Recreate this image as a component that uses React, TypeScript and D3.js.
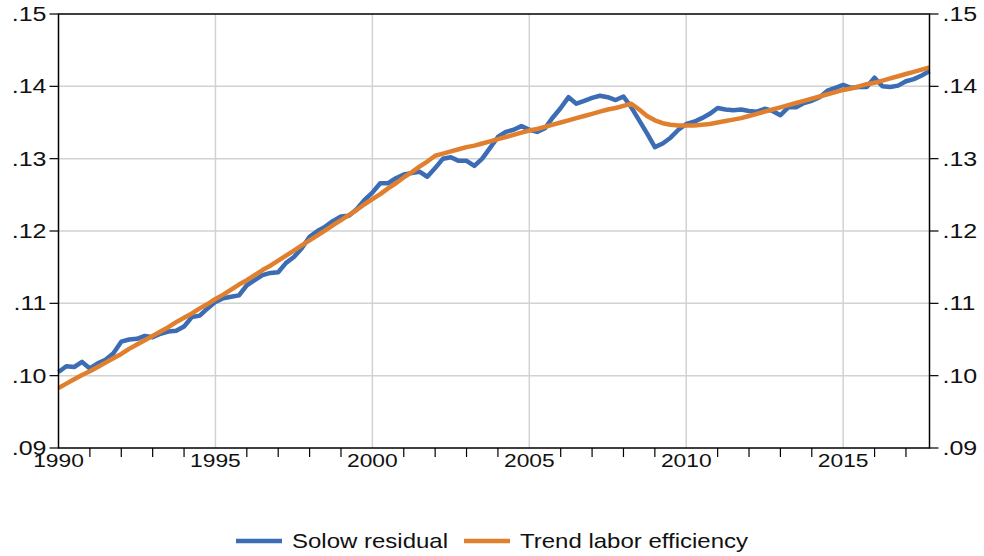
import * as d3 from "d3";
import React, { useRef, useEffect } from "react";

// quarterly data, 1990Q1 - 2017Q4
const startYear = 1990;

const solowResidual = [
  0.1005, 0.1013, 0.1012, 0.1019,
  0.1010, 0.1017, 0.1022, 0.1031,
  0.1047, 0.1050, 0.1051, 0.1055,
  0.1053, 0.1058, 0.1061, 0.1062,
  0.1068, 0.1081, 0.1083, 0.1093,
  0.1102, 0.1107, 0.1109, 0.1111,
  0.1125, 0.1132, 0.1139, 0.1142,
  0.1143, 0.1156, 0.1164, 0.1176,
  0.1192, 0.1200, 0.1206, 0.1214,
  0.1220, 0.1221, 0.1230, 0.1243,
  0.1253, 0.1266, 0.1266, 0.1273,
  0.1278, 0.1280, 0.1282, 0.1275,
  0.1287, 0.1300, 0.1302, 0.1297,
  0.1297, 0.1290, 0.1300, 0.1315,
  0.1330, 0.1337, 0.1340, 0.1345,
  0.1340, 0.1337, 0.1342, 0.1357,
  0.1370, 0.1385, 0.1376, 0.1380,
  0.1384, 0.1387, 0.1385, 0.1381,
  0.1386, 0.1371, 0.1353, 0.1335,
  0.1316, 0.1321, 0.1329, 0.1340,
  0.1348, 0.1351, 0.1356, 0.1362,
  0.1370, 0.1368, 0.1367, 0.1368,
  0.1366, 0.1365, 0.1369, 0.1366,
  0.1360, 0.1371, 0.1371, 0.1377,
  0.1380, 0.1385, 0.1394, 0.1398,
  0.1402, 0.1398, 0.1399, 0.1399,
  0.1412, 0.1400, 0.1399, 0.1401,
  0.1407, 0.1410, 0.1415, 0.1421,
];

const trendEfficiency = [
  0.0983, 0.0989, 0.0995, 0.1001,
  0.1006, 0.1012, 0.1018, 0.1024,
  0.1030, 0.1037, 0.1043, 0.1049,
  0.1055, 0.1061, 0.1067, 0.1074,
  0.1080, 0.1086, 0.1093, 0.1099,
  0.1106, 0.1112, 0.1119, 0.1126,
  0.1132, 0.1139, 0.1146, 0.1152,
  0.1159, 0.1166, 0.1173, 0.1180,
  0.1187, 0.1194, 0.1201, 0.1208,
  0.1215, 0.1222, 0.1229, 0.1237,
  0.1244, 0.1251, 0.1259, 0.1266,
  0.1274, 0.1281, 0.1289, 0.1296,
  0.1304, 0.1307, 0.1310, 0.1313,
  0.1316, 0.1318, 0.1321, 0.1324,
  0.1327, 0.1330, 0.1333, 0.1336,
  0.1339, 0.1341, 0.1344, 0.1347,
  0.1350, 0.1353, 0.1356, 0.1359,
  0.1362, 0.1365, 0.1368, 0.1370,
  0.1373, 0.1376, 0.1368, 0.1359,
  0.1353, 0.1349, 0.1347, 0.1346,
  0.1346, 0.1346, 0.1347, 0.1348,
  0.1350, 0.1352, 0.1354, 0.1356,
  0.1359, 0.1362, 0.1365, 0.1368,
  0.1371, 0.1374, 0.1377, 0.1380,
  0.1383, 0.1386, 0.1389, 0.1392,
  0.1395, 0.1397, 0.1400, 0.1403,
  0.1405, 0.1408, 0.1411, 0.1414,
  0.1417, 0.1420, 0.1423, 0.1426,
];

const yTicks = [0.09, 0.1, 0.11, 0.12, 0.13, 0.14, 0.15];
const xLabelYears = [1990, 1995, 2000, 2005, 2010, 2015];
const seriesNames = ["Solow residual", "Trend labor efficiency"];
const seriesColors = ["#3b6cb4", "#e0802f"];

const App = () => {
  const ref = useRef<SVGSVGElement | null>(null);

  useEffect(() => {
    if (!ref.current) return;
    const W = 984;
    const H = 556;
    const left = 58.5;
    const right = 929.5;
    const top = 14;
    const bottom = 448;
    const font = "'Liberation Sans', Arial, sans-serif";

    const svg = d3.select(ref.current).attr("width", W).attr("height", H);
    svg.selectAll("*").remove();

    const dates = solowResidual.map((_, i) => startYear + i / 4);
    const lastDate = dates[dates.length - 1];

    const x = d3.scaleLinear().domain([startYear, lastDate]).range([left, right]);
    const y = d3.scaleLinear().domain([0.09, 0.15]).range([bottom, top]);

    // the reference text is wider than it is tall
    const wideText = (g, tx, ty, txt, anchor, size, stretch) =>
      g
        .append("text")
        .attr("transform", `translate(${tx},${ty}) scale(${stretch},1)`)
        .attr("text-anchor", anchor)
        .style("font-family", font)
        .style("font-size", size + "px")
        .style("fill", "#111")
        .text(txt);

    // grid
    const grid = svg.append("g");
    yTicks.slice(1, -1).forEach((t) => {
      grid
        .append("line")
        .attr("x1", left)
        .attr("x2", right)
        .attr("y1", y(t))
        .attr("y2", y(t))
        .attr("stroke", "#d2d2d2")
        .attr("stroke-width", 1.5);
    });
    xLabelYears.slice(1).forEach((t) => {
      grid
        .append("line")
        .attr("x1", x(t))
        .attr("x2", x(t))
        .attr("y1", top)
        .attr("y2", bottom)
        .attr("stroke", "#d2d2d2")
        .attr("stroke-width", 1.5);
    });

    // lines
    const line = d3
      .line<number>()
      .x((_, i) => x(dates[i]))
      .y((d) => y(d));

    [solowResidual, trendEfficiency].forEach((values, k) => {
      svg
        .append("path")
        .datum(values)
        .attr("fill", "none")
        .attr("stroke", seriesColors[k])
        .attr("stroke-width", 4.5)
        .attr("stroke-linejoin", "round")
        .attr("d", line);
    });

    // frame
    svg
      .append("rect")
      .attr("x", left)
      .attr("y", top)
      .attr("width", right - left)
      .attr("height", bottom - top)
      .attr("fill", "none")
      .attr("stroke", "#000")
      .attr("stroke-width", 1.5);

    // y axes, both sides
    const fmt = (v) => d3.format(".2f")(v).replace(/^0/, "");
    yTicks.forEach((t) => {
      svg
        .append("line")
        .attr("x1", left - 9)
        .attr("x2", left)
        .attr("y1", y(t))
        .attr("y2", y(t))
        .attr("stroke", "#000")
        .attr("stroke-width", 1.2);
      svg
        .append("line")
        .attr("x1", right)
        .attr("x2", right + 9)
        .attr("y1", y(t))
        .attr("y2", y(t))
        .attr("stroke", "#000")
        .attr("stroke-width", 1.2);
      wideText(svg, left - 12, y(t) + 7, fmt(t), "end", 20, 1.25);
      wideText(svg, right + 13, y(t) + 7, fmt(t), "start", 20, 1.25);
    });

    // x axis: yearly ticks, labels every five years
    d3.range(startYear, Math.floor(lastDate) + 1).forEach((yr) => {
      if (yr % 5 === 0) return;
      svg
        .append("line")
        .attr("x1", x(yr))
        .attr("x2", x(yr))
        .attr("y1", bottom)
        .attr("y2", bottom + 9)
        .attr("stroke", "#000")
        .attr("stroke-width", 1.2);
    });
    xLabelYears.forEach((yr) => {
      wideText(svg, x(yr), bottom + 19, String(yr), "middle", 19, 1.2);
    });

    // legend
    const legendX = [236, 464];
    seriesNames.forEach((name, k) => {
      svg
        .append("line")
        .attr("x1", legendX[k])
        .attr("x2", legendX[k] + 46)
        .attr("y1", 541)
        .attr("y2", 541)
        .attr("stroke", seriesColors[k])
        .attr("stroke-width", 4.5);
      wideText(svg, legendX[k] + 56, 548, name, "start", 20, 1.2);
    });
  }, []);

  return (
    <svg
      ref={ref}
      style={{ position: "absolute", left: 0, top: 0, display: "block" }}
    />
  );
};

export default App;
